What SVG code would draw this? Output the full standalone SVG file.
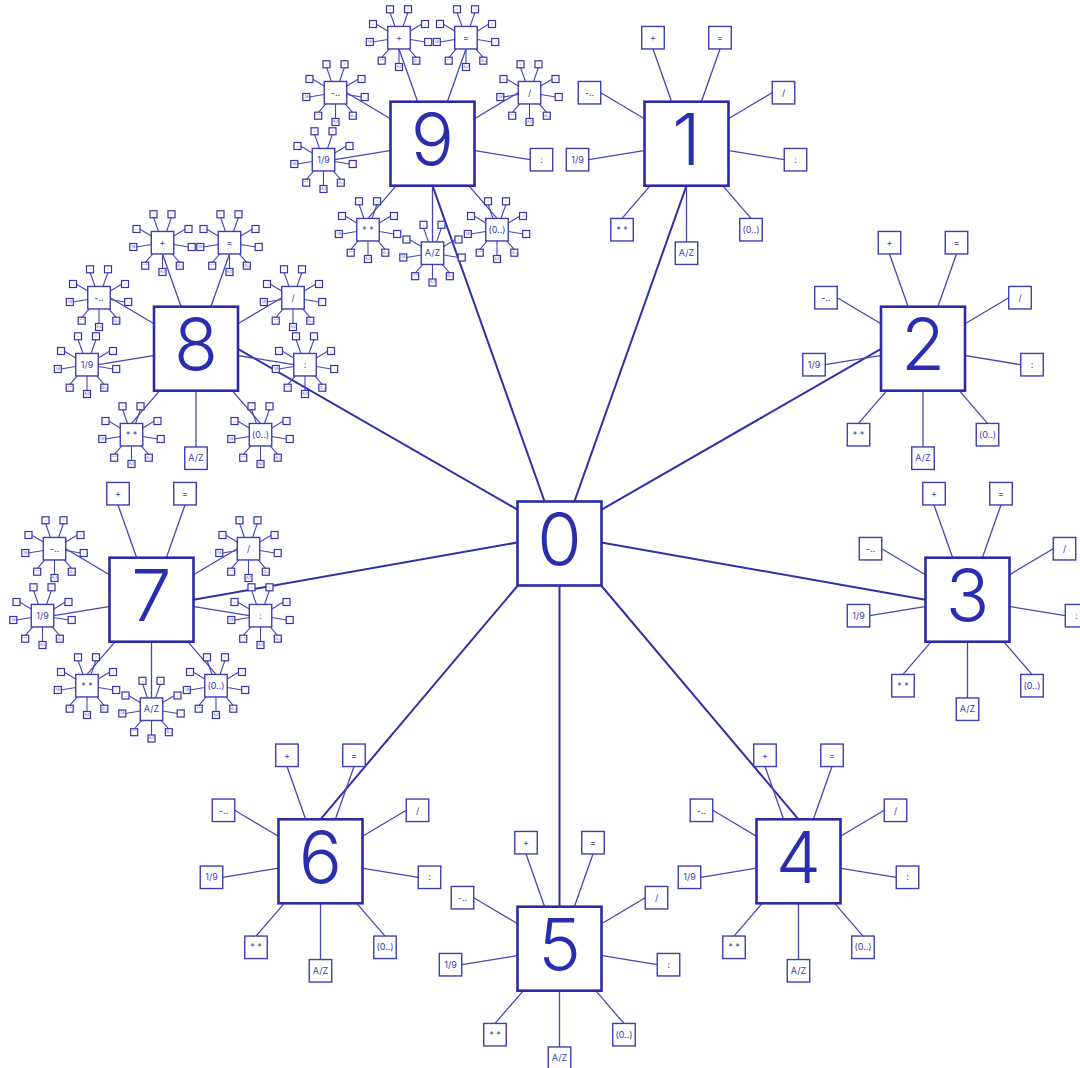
<svg xmlns="http://www.w3.org/2000/svg" xmlns:xlink="http://www.w3.org/1999/xlink" width="1080" height="1068" viewBox="0 0 1080 1068">
<style>
.main{fill:#fff;stroke:#2a2ca6;stroke-width:2.6}
.sat{fill:#fff;stroke:#3c3fb0;stroke-width:1.4}
.sub{fill:#fff;stroke:#3235ab;stroke-width:1.2}
.ml{stroke:#2e31a8;stroke-width:2;fill:none}
.sl{stroke:#4548b3;stroke-width:1.3;fill:none}
.ul{stroke:#4548b3;stroke-width:1.1;fill:none}
.dg{font-family:Inter,"Noto Sans",sans-serif;font-weight:300;font-size:72px;fill:#2a2db0;text-anchor:middle}
.st{font-family:Inter,"Noto Sans",sans-serif;font-size:9px;fill:#3a3db2;text-anchor:middle}
.ut{font-family:Inter,"Noto Sans",sans-serif;font-size:3px;fill:#3a3db2;text-anchor:middle}
</style>
<defs>
<g id="satlines" class="sl">
<line x1="0" y1="0" x2="-33.5" y2="-94.75"/>
<line x1="0" y1="0" x2="33.5" y2="-94.75"/>
<line x1="0" y1="0" x2="85.75" y2="-51"/>
<line x1="0" y1="0" x2="97.75" y2="16"/>
<line x1="0" y1="0" x2="64.5" y2="74.75"/>
<line x1="0" y1="0" x2="0" y2="98.25"/>
<line x1="0" y1="0" x2="-64.5" y2="74.75"/>
<line x1="0" y1="0" x2="-97.75" y2="16"/>
<line x1="0" y1="0" x2="-85.75" y2="-51"/>
</g>
<g id="satboxes">
<rect class="sat" x="-44.75" y="-117.25" width="22.5" height="22.5"/><text class="st" x="-33.5" y="-102.8">+</text>
<rect class="sat" x="22.25" y="-117.25" width="22.5" height="22.5"/><text class="st" x="33.5" y="-102.8">=</text>
<rect class="sat" x="85.75" y="-62.25" width="22.5" height="22.5"/><text class="st" x="97" y="-47.8">/</text>
<rect class="sat" x="97.75" y="4.75" width="22.5" height="22.5"/><text class="st" x="109" y="19.2">:</text>
<rect class="sat" x="53.25" y="74.75" width="22.5" height="22.5"/><text class="st" x="64.5" y="89.2">(0..)</text>
<rect class="sat" x="-11.25" y="98.25" width="22.5" height="22.5"/><text class="st" x="0" y="112.7">A/Z</text>
<rect class="sat" x="-75.75" y="74.75" width="22.5" height="22.5"/><text class="st" x="-64.5" y="89.2">* *</text>
<rect class="sat" x="-120.25" y="4.75" width="22.5" height="22.5"/><text class="st" x="-109" y="19.2">1/9</text>
<rect class="sat" x="-108.25" y="-62.25" width="22.5" height="22.5"/><text class="st" x="-97" y="-47.8">-..</text>
</g>
<g id="sublines" class="ul">
<line x1="-4" y1="-11.25" x2="-9" y2="-25.4"/>
<line x1="4" y1="-11.25" x2="9" y2="-25.4"/>
<line x1="11.25" y1="-6.7" x2="23" y2="-13.7"/>
<line x1="11.25" y1="1.85" x2="26.2" y2="4.3"/>
<line x1="9.73" y1="11.25" x2="17.3" y2="20"/>
<line x1="0" y1="11.25" x2="0" y2="26.3"/>
<line x1="-9.73" y1="11.25" x2="-17.3" y2="20"/>
<line x1="-11.25" y1="1.85" x2="-26.2" y2="4.3"/>
<line x1="-11.25" y1="-6.7" x2="-23" y2="-13.7"/>
</g>
<g id="subboxes">
<rect class="sub" x="-12.5" y="-31.9" width="7" height="7"/><text class="ut" x="-9" y="-27.4">+</text>
<rect class="sub" x="5.5" y="-31.9" width="7" height="7"/><text class="ut" x="9" y="-27.4">=</text>
<rect class="sub" x="22.5" y="-17.2" width="7" height="7"/><text class="ut" x="26" y="-12.7">/</text>
<rect class="sub" x="25.7" y="0.8" width="7" height="7"/><text class="ut" x="29.2" y="5.3">:</text>
<rect class="sub" x="13.8" y="19.5" width="7" height="7"/><text class="ut" x="17.3" y="24">(0..)</text>
<rect class="sub" x="-3.5" y="25.8" width="7" height="7"/><text class="ut" x="0" y="30.3">A/Z</text>
<rect class="sub" x="-20.8" y="19.5" width="7" height="7"/><text class="ut" x="-17.3" y="24">* *</text>
<rect class="sub" x="-32.7" y="0.8" width="7" height="7"/><text class="ut" x="-29.2" y="5.3">1/9</text>
<rect class="sub" x="-29.5" y="-17.2" width="7" height="7"/><text class="ut" x="-26" y="-12.7">-..</text>
</g>
</defs>
<rect width="1080" height="1068" fill="#fff"/>
<g id="connectors">
<g class="ml">
<line x1="559.5" y1="543.5" x2="686.5" y2="185.7"/>
<line x1="590" y1="516.3" x2="881.5" y2="348.7"/>
<line x1="590" y1="540.4" x2="925.5" y2="599.7"/>
<line x1="592.3" y1="575" x2="798.5" y2="819.3"/>
<line x1="559.5" y1="575" x2="559.5" y2="906.7"/>
<line x1="526.7" y1="575" x2="320.5" y2="819.3"/>
<line x1="529" y1="540.4" x2="193.5" y2="599.7"/>
<line x1="529" y1="516.3" x2="237.5" y2="348.7"/>
<line x1="559.5" y1="543.5" x2="432.5" y2="185.7"/>
</g>
<use xlink:href="#satlines" x="686.5" y="143.7"/>
<use xlink:href="#satlines" x="923" y="348.7"/>
<use xlink:href="#satlines" x="967.5" y="599.7"/>
<use xlink:href="#satlines" x="798.5" y="861.3"/>
<use xlink:href="#satlines" x="559.5" y="948.7"/>
<use xlink:href="#satlines" x="320.5" y="861.3"/>
<use xlink:href="#satlines" x="151.5" y="599.7"/>
<use xlink:href="#satlines" x="196" y="348.7"/>
<use xlink:href="#satlines" x="432.5" y="143.7"/>
<use xlink:href="#sublines" x="399" y="37.7"/>
<use xlink:href="#sublines" x="466" y="37.7"/>
<use xlink:href="#sublines" x="529.5" y="92.7"/>
<use xlink:href="#sublines" x="497" y="229.7"/>
<use xlink:href="#sublines" x="432.5" y="253.2"/>
<use xlink:href="#sublines" x="368" y="229.7"/>
<use xlink:href="#sublines" x="323.5" y="159.7"/>
<use xlink:href="#sublines" x="335.5" y="92.7"/>
<use xlink:href="#sublines" x="162.5" y="242.7"/>
<use xlink:href="#sublines" x="229.5" y="242.7"/>
<use xlink:href="#sublines" x="293" y="297.7"/>
<use xlink:href="#sublines" x="305" y="364.7"/>
<use xlink:href="#sublines" x="260.5" y="434.7"/>
<use xlink:href="#sublines" x="131.5" y="434.7"/>
<use xlink:href="#sublines" x="87" y="364.7"/>
<use xlink:href="#sublines" x="99" y="297.7"/>
<use xlink:href="#sublines" x="248.5" y="548.7"/>
<use xlink:href="#sublines" x="260.5" y="615.7"/>
<use xlink:href="#sublines" x="216" y="685.7"/>
<use xlink:href="#sublines" x="151.5" y="709.2"/>
<use xlink:href="#sublines" x="87" y="685.7"/>
<use xlink:href="#sublines" x="42.5" y="615.7"/>
<use xlink:href="#sublines" x="54.5" y="548.7"/>
</g>
<g id="n0"><rect class="main" x="517.5" y="501.5" width="84" height="84"/><text class="dg" x="559.5" y="565">0</text></g>
<g id="n1"><use xlink:href="#satboxes" x="686.5" y="143.7"/><rect class="main" x="644.5" y="101.7" width="84" height="84"/><text class="dg" x="686.5" y="165.2">1</text></g>
<g id="n2"><use xlink:href="#satboxes" x="923" y="348.7"/><rect class="main" x="881" y="306.7" width="84" height="84"/><text class="dg" x="923" y="370.2">2</text></g>
<g id="n3"><use xlink:href="#satboxes" x="967.5" y="599.7"/><rect class="main" x="925.5" y="557.7" width="84" height="84"/><text class="dg" x="967.5" y="621.2">3</text></g>
<g id="n4"><use xlink:href="#satboxes" x="798.5" y="861.3"/><rect class="main" x="756.5" y="819.3" width="84" height="84"/><text class="dg" x="798.5" y="882.8">4</text></g>
<g id="n5"><use xlink:href="#satboxes" x="559.5" y="948.7"/><rect class="main" x="517.5" y="906.7" width="84" height="84"/><text class="dg" x="559.5" y="970.2">5</text></g>
<g id="n6"><use xlink:href="#satboxes" x="320.5" y="861.3"/><rect class="main" x="278.5" y="819.3" width="84" height="84"/><text class="dg" x="320.5" y="882.8">6</text></g>
<g id="n7"><use xlink:href="#satboxes" x="151.5" y="599.7"/>
<use xlink:href="#subboxes" x="248.5" y="548.7"/>
<use xlink:href="#subboxes" x="260.5" y="615.7"/>
<use xlink:href="#subboxes" x="216" y="685.7"/>
<use xlink:href="#subboxes" x="151.5" y="709.2"/>
<use xlink:href="#subboxes" x="87" y="685.7"/>
<use xlink:href="#subboxes" x="42.5" y="615.7"/>
<use xlink:href="#subboxes" x="54.5" y="548.7"/>
<rect class="main" x="109.5" y="557.7" width="84" height="84"/><text class="dg" x="151.5" y="621.2">7</text></g>
<g id="n8"><use xlink:href="#satboxes" x="196" y="348.7"/>
<use xlink:href="#subboxes" x="162.5" y="242.7"/>
<use xlink:href="#subboxes" x="229.5" y="242.7"/>
<use xlink:href="#subboxes" x="293" y="297.7"/>
<use xlink:href="#subboxes" x="305" y="364.7"/>
<use xlink:href="#subboxes" x="260.5" y="434.7"/>
<use xlink:href="#subboxes" x="131.5" y="434.7"/>
<use xlink:href="#subboxes" x="87" y="364.7"/>
<use xlink:href="#subboxes" x="99" y="297.7"/>
<rect class="main" x="154" y="306.7" width="84" height="84"/><text class="dg" x="196" y="370.2">8</text></g>
<g id="n9"><use xlink:href="#satboxes" x="432.5" y="143.7"/>
<use xlink:href="#subboxes" x="399" y="37.7"/>
<use xlink:href="#subboxes" x="466" y="37.7"/>
<use xlink:href="#subboxes" x="529.5" y="92.7"/>
<use xlink:href="#subboxes" x="497" y="229.7"/>
<use xlink:href="#subboxes" x="432.5" y="253.2"/>
<use xlink:href="#subboxes" x="368" y="229.7"/>
<use xlink:href="#subboxes" x="323.5" y="159.7"/>
<use xlink:href="#subboxes" x="335.5" y="92.7"/>
<rect class="main" x="390.5" y="101.7" width="84" height="84"/><text class="dg" x="432.5" y="165.2">9</text></g>
</svg>
